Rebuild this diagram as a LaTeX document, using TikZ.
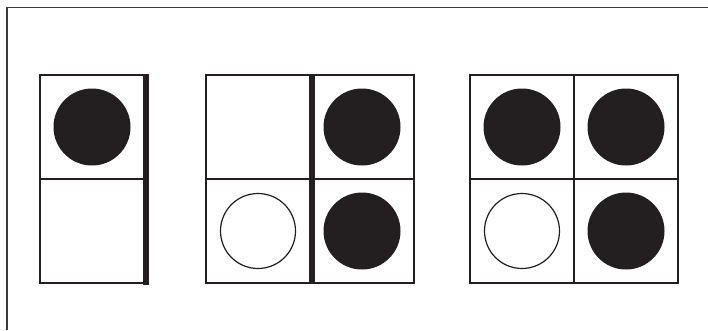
\documentclass[tikz,border=0pt]{standalone}
\usepackage{tikz}
\usetikzlibrary{positioning}
\definecolor{ink}{HTML}{231F20}
\definecolor{framegray}{HTML}{3A3A3A}

\begin{document}
\begin{tikzpicture}[
  x=1pt, y=-1pt,
  cell/.style={draw=ink, line width=1.4pt, minimum size=104pt, inner sep=0pt},
  dot/.style={circle, fill=ink, minimum size=77pt, inner sep=0pt},
  hole/.style={circle, draw=ink, line width=1.2pt, fill=white, minimum size=75pt, inner sep=0pt},
  bar/.style={draw=ink, line width=6.5pt},
  frame/.style={draw=framegray, line width=1.1pt},
]
\useasboundingbox (0,0) rectangle (708,330);

% Outer frame (open at right and bottom)
\draw[frame] (7,330) -- (7,7.5) -- (708,7.5);

% Left domino
\node[cell] (lt) at (92,127) {};
\node[cell] (lb) at (92,231) {};
\node[dot] (ltdot) at (lt.center) {};
\draw[bar] ([xshift=1.5pt]lt.north east) -- ([xshift=1.5pt,yshift=-1pt]lb.south east);

% Middle square
\node[cell] (mlt) at (258,127) {};
\node[cell] (mrt) at (362,127) {};
\node[cell] (mlb) at (258,231) {};
\node[cell] (mrb) at (362,231) {};
\node[dot] (mrtdot) at (mrt.center) {};
\node[hole] (mlbhole) at (mlb.center) {};
\node[dot] (mrbdot) at (mrb.center) {};
\draw[bar] ([xshift=1.5pt]mlt.north east) -- ([xshift=1.5pt]mlb.south east);

% Right square
\node[cell] (rlt) at (522,127) {};
\node[cell] (rrt) at (626,127) {};
\node[cell] (rlb) at (522,231) {};
\node[cell] (rrb) at (626,231) {};
\node[dot] (rltdot) at (rlt.center) {};
\node[dot] (rrtdot) at (rrt.center) {};
\node[hole] (rlbhole) at (rlb.center) {};
\node[dot] (rrbdot) at (rrb.center) {};

\end{tikzpicture}
\end{document}
